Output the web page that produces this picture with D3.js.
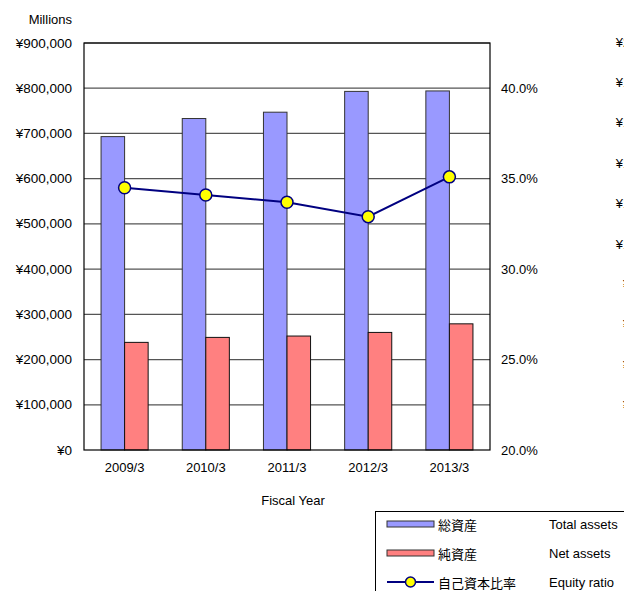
<!DOCTYPE html>
<html>
<head>
<meta charset="UTF-8">
<style>
  body { margin: 0; background: #fff; }
  svg { display: block; }
  text { font-family: "Liberation Sans", Arial, "Noto Sans CJK JP", sans-serif; font-size: 13px; fill: #000; }
  .jp { font-family: "Noto Sans CJK JP", sans-serif; }
</style>
</head>
<body>
<svg></svg>
<script src="https://d3js.org/d3.v7.min.js"></script>
<script>
// data
const years = ["2009/3", "2010/3", "2011/3", "2012/3", "2013/3"];
const totalAssets = [693000, 733000, 747000, 793000, 794000];
const netAssets = [238000, 249000, 252000, 260000, 279000];
const equityRatio = [34.5, 34.1, 33.7, 32.9, 35.1];
const leftTicks = [0, 100000, 200000, 300000, 400000, 500000, 600000, 700000, 800000, 900000];
const rightTicks = [20, 25, 30, 35, 40];
// labels of the neighbouring chart, cut off at the right edge
const ghostTicks = [0, 20000, 40000, 60000, 80000, 100000, 120000, 140000, 160000, 180000, 200000];
const legendItems = [
  { jp: "総資産", en: "Total assets", type: "bar", color: "#9999FF" },
  { jp: "純資産", en: "Net assets", type: "bar", color: "#FF8080" },
  { jp: "自己資本比率", en: "Equity ratio", type: "line", color: "#000080" }
];

const width = 624, height = 591;
const plot = { left: 84, right: 490, top: 43, bottom: 450 };

const svg = d3.select("svg").attr("width", width).attr("height", height);

const x = d3.scaleBand().domain(years).range([plot.left, plot.right]);
const yL = d3.scaleLinear().domain([0, 900000]).range([plot.bottom, plot.top]);
const yR = d3.scaleLinear().domain([20, 42.5]).range([plot.bottom, plot.top]);
const yG = d3.scaleLinear().domain([0, 200000]).range([446, 42]);

const yen = d => "¥" + d3.format(",")(d);
const barW = x.bandwidth() * 0.29;

// gridlines
svg.append("g").selectAll("line")
  .data(leftTicks.slice(1))
  .enter().append("line")
  .attr("x1", plot.left).attr("x2", plot.right)
  .attr("y1", d => yL(d)).attr("y2", d => yL(d))
  .style("stroke", "#555").style("stroke-width", 1.2);

// bars
const bars = svg.append("g");
bars.selectAll(".total")
  .data(totalAssets)
  .enter().append("rect")
  .attr("x", (d, i) => x(years[i]) + x.bandwidth() / 2 - barW)
  .attr("y", d => yL(d))
  .attr("width", barW)
  .attr("height", d => yL(0) - yL(d))
  .style("fill", "#9999FF").style("stroke", "#333").style("stroke-width", 1);
bars.selectAll(".net")
  .data(netAssets)
  .enter().append("rect")
  .attr("x", (d, i) => x(years[i]) + x.bandwidth() / 2)
  .attr("y", d => yL(d))
  .attr("width", barW)
  .attr("height", d => yL(0) - yL(d))
  .style("fill", "#FF8080").style("stroke", "#111").style("stroke-width", 1);

// plot frame
svg.append("rect")
  .attr("x", plot.left).attr("y", plot.top)
  .attr("width", plot.right - plot.left).attr("height", plot.bottom - plot.top)
  .style("fill", "none").style("stroke", "#000").style("stroke-width", 1.2);

// equity ratio line
const line = d3.line()
  .x((d, i) => x(years[i]) + x.bandwidth() / 2)
  .y(d => yR(d));
svg.append("path")
  .datum(equityRatio)
  .attr("d", line)
  .style("fill", "none").style("stroke", "#000080").style("stroke-width", 2);
svg.append("g").selectAll("circle")
  .data(equityRatio)
  .enter().append("circle")
  .attr("cx", (d, i) => x(years[i]) + x.bandwidth() / 2)
  .attr("cy", d => yR(d))
  .attr("r", 6)
  .style("fill", "#FFFF00").style("stroke", "#000080").style("stroke-width", 1.5);

// left axis labels
svg.append("g").selectAll("text")
  .data(leftTicks)
  .enter().append("text")
  .attr("x", 72).attr("y", d => yL(d))
  .attr("text-anchor", "end").attr("dominant-baseline", "central")
  .style("font-size", "13.5px")
  .text(yen);
svg.append("text")
  .attr("x", 72).attr("y", 19)
  .attr("text-anchor", "end").attr("dominant-baseline", "central")
  .text("Millions");

// right axis labels
svg.append("g").selectAll("text")
  .data(rightTicks)
  .enter().append("text")
  .attr("x", 501).attr("y", d => yR(d))
  .attr("dominant-baseline", "central")
  .text(d => d.toFixed(1) + "%");

// category labels
svg.append("g").selectAll("text")
  .data(years)
  .enter().append("text")
  .attr("x", d => x(d) + x.bandwidth() / 2).attr("y", 467)
  .attr("text-anchor", "middle").attr("dominant-baseline", "central")
  .text(d => d);
svg.append("text")
  .attr("x", 293).attr("y", 500)
  .attr("text-anchor", "middle").attr("dominant-baseline", "central")
  .text("Fiscal Year");

// neighbouring chart labels (clipped by the window)
svg.append("g").selectAll("text")
  .data(ghostTicks)
  .enter().append("text")
  .attr("x", 670).attr("y", d => yG(d))
  .attr("text-anchor", "end").attr("dominant-baseline", "central")
  .text(yen);

// legend
const legend = svg.append("g");
legend.append("rect")
  .attr("x", 375.5).attr("y", 511.5)
  .attr("width", 260).attr("height", 100)
  .style("fill", "#fff").style("stroke", "#000").style("stroke-width", 1);
const rowY = d3.scalePoint().domain(d3.range(legendItems.length)).range([524, 582]);
legendItems.forEach((item, i) => {
  const cy = rowY(i);
  if (item.type === "bar") {
    legend.append("rect")
      .attr("x", 387).attr("y", cy - 3).attr("width", 47).attr("height", 6)
      .style("fill", item.color).style("stroke", "#333").style("stroke-width", 1);
  } else {
    legend.append("line")
      .attr("x1", 387).attr("x2", 434).attr("y1", cy).attr("y2", cy)
      .style("stroke", item.color).style("stroke-width", 2);
    legend.append("circle")
      .attr("cx", 410.5).attr("cy", cy).attr("r", 5)
      .style("fill", "#FFFF00").style("stroke", item.color).style("stroke-width", 1.5);
  }
  legend.append("text").attr("class", "jp")
    .attr("x", 438).attr("y", cy).attr("dominant-baseline", "central")
    .text(item.jp);
  legend.append("text")
    .attr("x", 549).attr("y", cy).attr("dominant-baseline", "central")
    .text(item.en);
});
</script>
</body>
</html>
